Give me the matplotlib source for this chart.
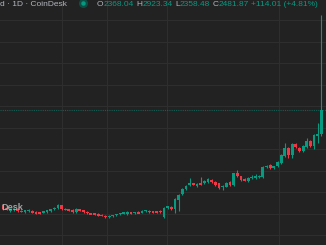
import numpy as np
import matplotlib.pyplot as plt

# daily candles
opens = [2040, 2024, 2012, 2016, 2021, 2014, 2007, 2012, 2012, 2007,
         2006, 2004, 2008, 2012, 2020, 2024, 2038, 2022, 2020, 2018,
         2006, 2020, 2015, 2008, 2002, 2001, 1998, 1995, 1991, 1983,
         1988, 1992, 1996, 1999, 1997, 2006, 2002, 2007, 2005, 2011,
         2013, 2010, 2011, 2014, 1984, 2026, 2030, 2021, 2063, 2091,
         2114, 2133, 2140, 2128, 2142, 2142, 2147, 2156, 2147, 2140,
         2123, 2125, 2147, 2133, 2188, 2174, 2160, 2151, 2165, 2165,
         2170, 2170, 2216, 2226, 2212, 2221, 2235, 2268, 2305, 2272,
         2323, 2305, 2291, 2309, 2337, 2314, 2362, 2368.04]
closes = [2021, 2019, 2021, 2021, 2012, 2010, 2016, 2016, 2007, 2002,
          2003, 2008, 2012, 2020, 2026, 2040, 2022, 2019, 2017, 2006,
          2020, 2015, 2007, 2001, 1999, 1997, 1994, 1991, 1982, 1990,
          1992, 1996, 1999, 2003, 2007, 2002, 2006, 2004, 2014, 2014,
          2008, 2006, 2006, 2007, 2026, 2031, 2021, 2068, 2086, 2114,
          2128, 2142, 2136, 2137, 2137, 2151, 2160, 2147, 2133, 2119,
          2128, 2142, 2133, 2188, 2174, 2156, 2157, 2165, 2170, 2174,
          2175, 2216, 2221, 2212, 2216, 2240, 2272, 2305, 2272, 2323,
          2309, 2291, 2314, 2337, 2314, 2365, 2368, 2481.87]
highs = [2046, 2028, 2025, 2024, 2024, 2017, 2019, 2020, 2015, 2010,
         2009, 2011, 2015, 2023, 2030, 2044, 2042, 2026, 2023, 2021,
         2024, 2023, 2018, 2011, 2005, 2004, 2001, 1998, 1994, 1993,
         1995, 1999, 2002, 2006, 2010, 2009, 2009, 2010, 2017, 2017,
         2016, 2013, 2014, 2017, 2029, 2035, 2034, 2071, 2090, 2118,
         2132, 2165, 2144, 2141, 2170, 2155, 2164, 2160, 2151, 2143,
         2131, 2146, 2151, 2191, 2202, 2177, 2164, 2169, 2180, 2186,
         2179, 2219, 2225, 2229, 2220, 2244, 2276, 2328, 2308, 2327,
         2326, 2308, 2318, 2351, 2340, 2369, 2420, 2923.34]
lows = [2017, 2015, 2009, 2013, 2009, 2006, 2004, 2009, 2004, 1999,
        2000, 2001, 2005, 2009, 2017, 2021, 2019, 2016, 2013, 2003,
        2003, 2012, 2004, 1998, 1996, 1994, 1991, 1988, 1978, 1979,
        1985, 1989, 1993, 1996, 1994, 1999, 1999, 2001, 2002, 2008,
        2005, 2003, 2003, 2004, 1980, 2022, 2018, 2002, 2010, 2088,
        2111, 2130, 2132, 2125, 2134, 2139, 2144, 2144, 2129, 2115,
        2110, 2122, 2130, 2130, 2171, 2152, 2153, 2148, 2162, 2162,
        2167, 2167, 2213, 2209, 2209, 2218, 2232, 2265, 2258, 2258,
        2305, 2287, 2288, 2306, 2310, 2300, 2328, 2358.48]

header_left = "d · 1D · CoinDesk"
ohlc_labels = ["O", "H", "L", "C"]
ohlc_values = ["2368.04", "2923.34", "2358.48", "2481.87"]
change_text = "+114.01 (+4.81%)"
grid_prices = np.arange(1900, 3000, 100)
grid_days = [16, 28.5, 44.8, 75.4]

up_color = '#089981'
down_color = '#f23645'
bg = '#222222'

fig = plt.figure(figsize=(3.26, 2.45), dpi=100, facecolor=bg)
ax = fig.add_axes([0, 0, 1, 1])
ax.set_facecolor(bg)

x = np.arange(len(opens))
o = np.array(opens)
c = np.array(closes)
colors = np.where(c >= o, up_color, down_color)

# bodies: at least ~1.5 px tall, like the platform draws them
body = c - o
min_body = 7.0
body = np.where(np.abs(body) < min_body,
                np.where(body >= 0, min_body, -min_body), body)

ax.vlines(x, lows, highs, colors=colors, linewidth=0.8, zorder=3)
ax.bar(x, body, bottom=o, width=0.76, color=colors, linewidth=0, zorder=4)

# last price line
ax.axhline(closes[-1], color=up_color, alpha=0.5, linewidth=0.8,
           linestyle=(0, (1, 1)), zorder=2)

ax.set_xlim(-0.82, 88.25)
ax.set_ylim(1854, 2993)
ax.set_yticks(grid_prices)
ax.set_xticks(grid_days)
ax.grid(True, color='#2e2e2e', linewidth=0.8, zorder=0)
ax.tick_params(length=0, labelbottom=False, labelleft=False)
for s in ax.spines.values():
    s.set_visible(False)

# watermark
ax.text(0.003, 1 - 210 / 245, "Desk", transform=ax.transAxes,
        family='Liberation Sans', fontweight='bold', fontsize=6.6,
        color='#b8b8b8', alpha=0.85, va='baseline', ha='left', zorder=6)

# header line
fig.canvas.draw()
renderer = fig.canvas.get_renderer()
ybase = 1 - 6.5 / 245
fs = 6.0
fam = 'Liberation Sans'
grey = '#b2b5be'


def put(xpx, s, color):
    t = fig.text(xpx / 326, ybase, s, color=color, fontsize=fs, family=fam,
                 va='baseline', ha='left')
    bb = t.get_window_extent(renderer)
    return xpx + bb.width


put(0, header_left, grey)
ax.plot([83 / 326], [1 - 3 / 245], marker='o', markersize=5.5,
        color='#0b4f44', transform=ax.transAxes, clip_on=False, zorder=7)
ax.plot([83 / 326], [1 - 3 / 245], marker='o', markersize=2.2,
        color=up_color, transform=ax.transAxes, clip_on=False, zorder=8)

xp = 97
for lab, val in zip(ohlc_labels, ohlc_values):
    xp = put(xp, lab, grey)
    xp = put(xp, val, up_color) + 2.5
put(xp, change_text, up_color)

fig.savefig('out.png', dpi=100, facecolor=bg)
